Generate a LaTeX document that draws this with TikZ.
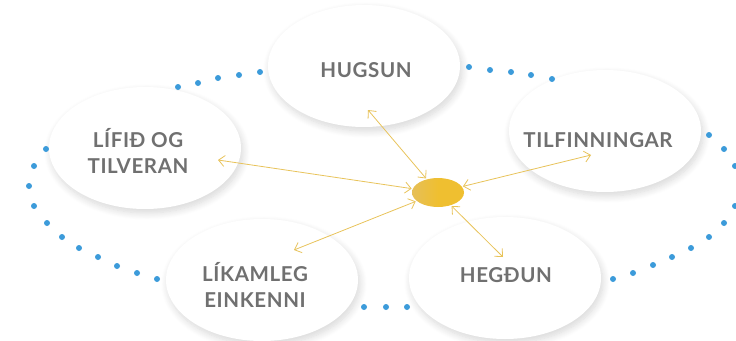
\documentclass[tikz,border=0pt]{standalone}
\usepackage{fontspec}
\setmainfont{Lato}[LetterSpace=3]
\usetikzlibrary{shapes.geometric,arrows.meta,shadows.blur}
\definecolor{dotblue}{HTML}{3C9BDA}
\definecolor{goldline}{HTML}{E8C35A}
\definecolor{goldA}{HTML}{E6BF58}
\definecolor{goldB}{HTML}{EFBF30}
\definecolor{txtgray}{HTML}{707070}
\tikzset{
  bubble/.style={ellipse, fill=white, inner sep=0pt, minimum width=192pt, minimum height=122pt,
    blur shadow={shadow xshift=2pt, shadow yshift=-4pt, shadow blur radius=7pt, shadow blur steps=12, shadow opacity=16}},
  lbl/.style={text=txtgray, font=\fontsize{20.5}{26}\selectfont\bfseries, align=center, inner sep=0pt},
  arr/.style={draw=goldline, line width=0.8pt, {Straight Barb[length=6pt,width=11pt]}-{Straight Barb[length=6pt,width=11pt]}, shorten >=1pt},
  dot/.style={fill=dotblue}
}
\begin{document}
\begin{tikzpicture}[x=1pt,y=-1pt]
\useasboundingbox (0,0) rectangle (736,340);
% bubbles
\node[bubble] (eHug) at (364,66) {};
\node[bubble] (eTil) at (605,131) {};
\node[bubble] (eLif) at (145,148) {};
\node[bubble] (eLik) at (262,280) {};
\node[bubble] (eHeg) at (505,278) {};
% dots
\foreach \p in {(178,87),(198,83),(218,78),(239,75),(260,72),
  (469,67),(490,70),(511,72),(531,75),(552,79),
  (46,149),(34,166),(29,186),(34,206),(47,223),(62,237),(79,248),(98,257),(117,266),(137,273),(157,279),
  (364,307),(386,307),(407,307),
  (709,135),(724,149),(735,166),(741,186),(735,206),(724,223),(709,237),(691,248),(672,257),(653,265),(633,273),(613,279)}
  \fill[dot] \p circle (3pt);
% labels
\node[lbl] (hug) at (366,70) {HUGSUN};
\node[lbl] (til) at (598,140) {TILFINNINGAR};
\node[lbl] (lif) at (138,151) {LÍFIÐ OG\\TILVERAN};
\node[lbl] (lik) at (255,285) {LÍKAMLEG\\EINKENNI};
\node[lbl] (heg) at (506,275) {HEGÐUN};
% center
\node[ellipse, minimum width=52pt, minimum height=29pt, inner sep=0pt, left color=goldA, right color=goldB, middle color=goldB] (c) at (438,192.5) {};
% arrow ends
\coordinate (aHug) at (368,110);
\coordinate (aTil) at (591,155);
\coordinate (aLif) at (218,160);
\coordinate (aLik) at (294,250);
\coordinate (aHeg) at (503,257);
\draw[arr] (aHug) -- (c);
\draw[arr] (aTil) -- (c);
\draw[arr] (aLif) -- (c);
\draw[arr] (aLik) -- (c);
\draw[arr] (aHeg) -- (c);
\end{tikzpicture}
\end{document}
